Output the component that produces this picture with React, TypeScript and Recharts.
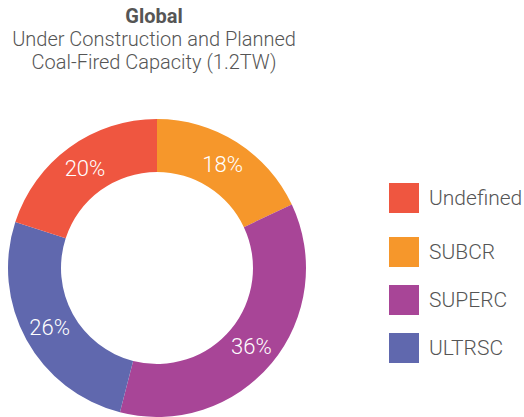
import { PieChart, Pie, Cell } from "recharts"

const categories = ["SUBCR", "SUPERC", "ULTRSC", "Undefined"]
const shares = [18, 36, 26, 20]
const colors = ["#F6972B", "#A84597", "#6068AE", "#EF5640"]
const legendOrder = ["Undefined", "SUBCR", "SUPERC", "ULTRSC"]

const data = categories.map((name, i) => ({ name, value: shares[i], color: colors[i] }))

const FONT = "Roboto, 'Noto Sans', sans-serif"
const RAD = Math.PI / 180

function renderLabel(props: any) {
    const { cx, cy, midAngle, innerRadius, outerRadius, value } = props
    const r = (innerRadius + outerRadius) / 2
    const x = cx + r * Math.cos(-midAngle * RAD)
    const y = cy + r * Math.sin(-midAngle * RAD)
    return (
        <text x={x} y={y} fill="#fff" textAnchor="middle" dominantBaseline="central"
            style={{ fontFamily: FONT, fontSize: 22, fontWeight: 300 }}>
            {`${value}%`}
        </text>
    )
}

export default function App() {
    return (
        <div style={{ position: "absolute", left: 0, top: 0, width: 524, height: 417, background: "#fff", fontFamily: FONT, color: "#555" }}>
            <div style={{ position: "absolute", left: 0, top: 5, width: 308, textAlign: "center", lineHeight: "23px", fontSize: 20, fontWeight: 300 }}>
                <div style={{ fontWeight: 700 }}>Global</div>
                <div>Under Construction and Planned</div>
                <div>Coal-Fired Capacity (1.2TW)</div>
            </div>
            <div style={{ position: "absolute", left: 0, top: 0 }}>
                <PieChart width={524} height={417} margin={{ top: 0, right: 0, bottom: 0, left: 0 }}>
                    <Pie
                        data={data}
                        dataKey="value"
                        nameKey="name"
                        cx={157}
                        cy={268}
                        innerRadius={96}
                        outerRadius={149}
                        startAngle={90}
                        endAngle={-270}
                        stroke="none"
                        label={renderLabel}
                        labelLine={false}
                        isAnimationActive={false}
                    >
                        {data.map((d) => (
                            <Cell key={d.name} fill={d.color} />
                        ))}
                    </Pie>
                </PieChart>
            </div>
            {/* legend */}
            {legendOrder.map((name, i) => {
                const d = data.find((x) => x.name === name)!
                const top = [183, 237, 285, 333][i]
                return (
                    <div key={name} style={{ position: "absolute", left: 389, top, height: 30, display: "flex", alignItems: "center" }}>
                        <div style={{ width: 30, height: 30, background: d.color }} />
                        <span style={{ marginLeft: 10, fontSize: 21, fontWeight: 300, color: "#555" }}>{name}</span>
                    </div>
                )
            })}
        </div>
    )
}
